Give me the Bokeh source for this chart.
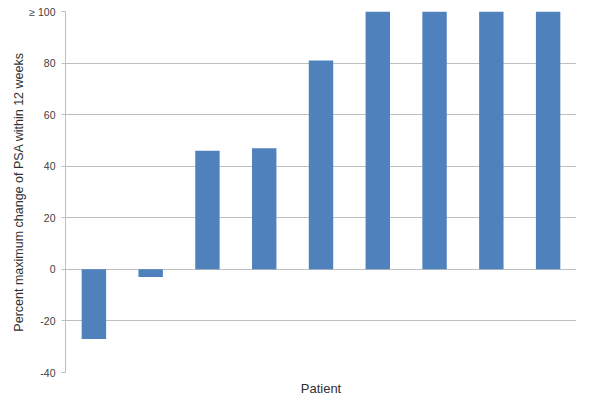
from bokeh.plotting import figure
from bokeh.models import FixedTicker, ColumnDataSource
from bokeh.embed import file_html
from bokeh.resources import INLINE

patients = [1, 2, 3, 4, 5, 6, 7, 8, 9]
psa_change = [-27, -3, 46, 47, 81, 100, 100, 100, 100]
y_ticks = [-40, -20, 0, 20, 40, 60, 80, 100]
y_tick_labels = ["-40", "-20", "0", "20", "40", "60", "80", "\u2265 100"]

src = ColumnDataSource(dict(x=patients, top=psa_change))

p = figure(width=584, height=398, output_backend="svg", toolbar_location=None,
           x_range=(0.5, 9.5), y_range=(-40, 100),
           min_border_left=65, min_border_right=8, min_border_top=11, min_border_bottom=10)

p.vbar(x="x", top="top", bottom=0, width=0.43, source=src,
       fill_color="#4F81BD", line_color=None)

p.outline_line_color = None
p.background_fill_color = "white"

yax = p.yaxis[0]
yax.ticker = FixedTicker(ticks=y_ticks)
yax.major_label_overrides = {t: l for t, l in zip(y_ticks, y_tick_labels)}
yax.axis_line_color = "#BFBFBF"
yax.major_tick_line_color = "#BFBFBF"
yax.major_tick_out = 4
yax.major_tick_in = 0
yax.minor_tick_line_color = None
yax.major_label_text_font = "Liberation Sans"
yax.major_label_text_font_size = "10.5px"
yax.major_label_text_color = "#404040"
yax.major_label_standoff = 6
yax.axis_label = "Percent maximum change of PSA within 12 weeks"
yax.axis_label_text_font = "Liberation Sans"
yax.axis_label_text_font_size = "12.5px"
yax.axis_label_text_font_style = "normal"
yax.axis_label_text_color = "#303030"
yax.axis_label_standoff = 0

xax = p.xaxis[0]
xax.ticker = FixedTicker(ticks=[])
xax.axis_line_color = None
xax.major_tick_line_color = None
xax.minor_tick_line_color = None
xax.axis_label = "Patient"
xax.axis_label_text_font = "Liberation Sans"
xax.axis_label_text_font_size = "13px"
xax.axis_label_text_font_style = "normal"
xax.axis_label_text_color = "#303030"
xax.axis_label_standoff = 8

p.xgrid.grid_line_color = None
p.ygrid.ticker = FixedTicker(ticks=y_ticks)
p.ygrid.grid_line_color = "#BFBFBF"
p.ygrid.grid_line_width = 1

open("out.html", "w").write(file_html(p, INLINE))
